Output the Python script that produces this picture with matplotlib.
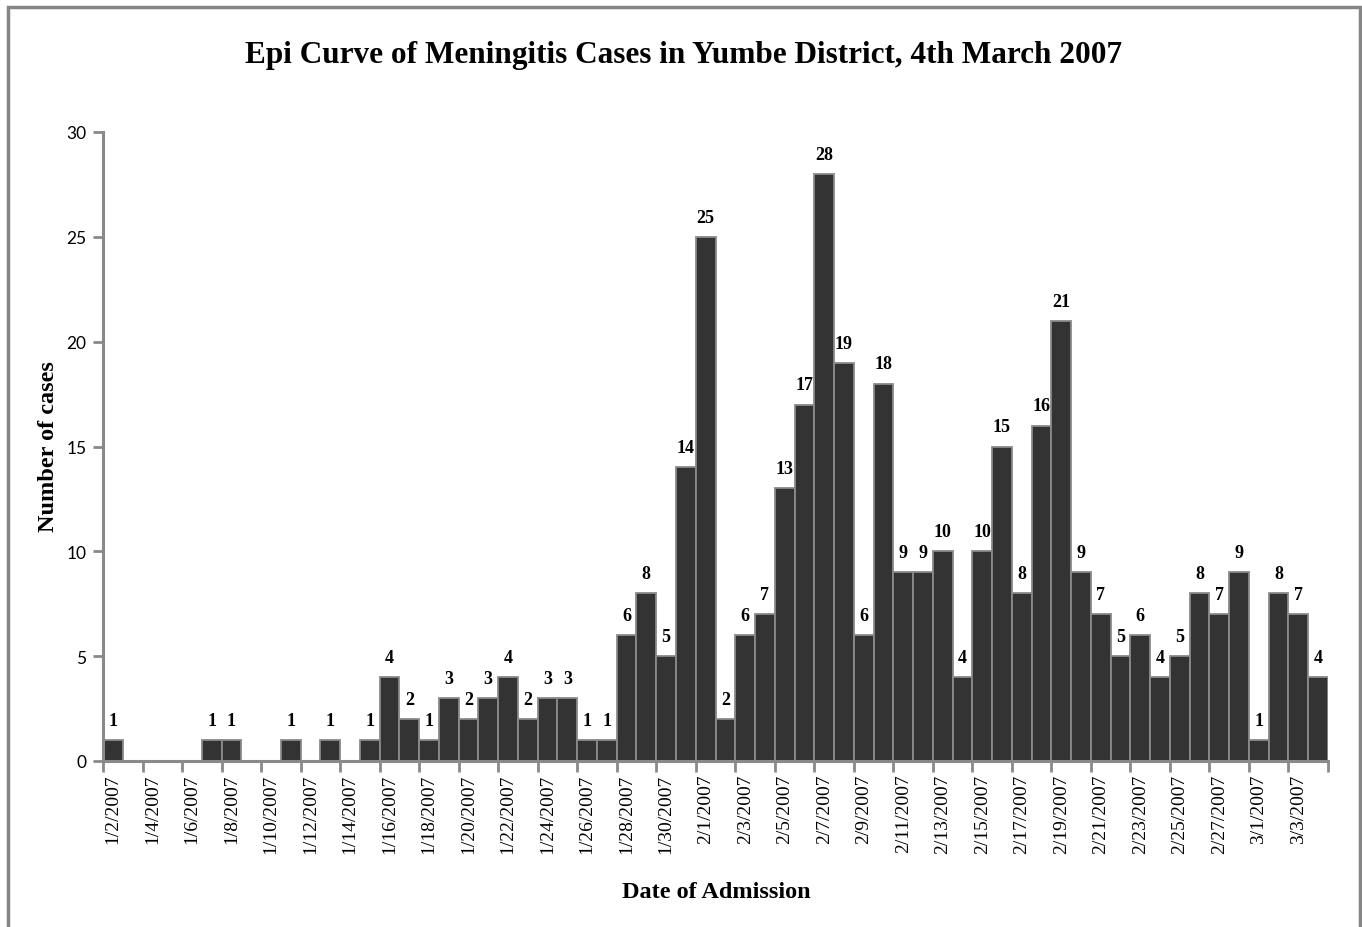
import numpy as np
import pandas as pd
import matplotlib
matplotlib.use('Agg')
import matplotlib.pyplot as plt
from matplotlib.patches import Rectangle

######## Data ##############

dates = pd.date_range('2007-01-02', '2007-03-04', freq='D')
day_labels = [f'{d.month}/{d.day}/{d.year}' for d in dates]

cases = [1, 0, 0, 0, 0, 1, 1, 0, 0, 1,          # 1/2 - 1/11
         0, 1, 0, 1, 4, 2, 1, 3, 2, 3,          # 1/12 - 1/21
         4, 2, 3, 3, 1, 1, 6, 8, 5, 14,         # 1/22 - 1/31
         25, 2, 6, 7, 13, 17, 28, 19, 6, 18,    # 2/1 - 2/10
         9, 9, 10, 4, 10, 15, 8, 16, 21, 9,     # 2/11 - 2/20
         7, 5, 6, 4, 5, 8, 7, 9,                # 2/21 - 2/28
         1, 8, 7, 4]                            # 3/1 - 3/4

title = 'Epi Curve of Meningitis Cases in Yumbe District, 4th March 2007'
xlabel = 'Date of Admission'
ylabel = 'Number of cases'

######## Plot ##############

serif = ['Liberation Serif', 'DejaVu Serif']
sans = ['Lato', 'DejaVu Sans']
grey = '#8a8a8a'

fig = plt.figure(figsize=(13.62, 9.28), dpi=100)
ax = fig.add_axes([103 / 1362, 1 - 762 / 928, 1225 / 1362, 629 / 928])

x = np.arange(len(cases))
bars = ax.bar(x, cases, width=1.0, color='#333333', edgecolor=grey, linewidth=1.3)

# data labels (zero days have none)
for xi, v in zip(x, cases):
    if v > 0:
        ax.annotate(str(v), (xi, v), xytext=(0, 8), textcoords='offset points',
                    ha='center', va='bottom', fontsize=13, fontweight='bold',
                    family=serif)

ax.set_xlim(-0.5, len(cases) - 0.5)
ax.set_ylim(0, 30)
ax.set_yticks(np.arange(0, 31, 5))
ax.set_yticklabels([str(v) for v in range(0, 31, 5)], family=sans, fontsize=12.5)

# labels on every second day, tick marks between categories
ax.set_xticks(x[::2])
ax.set_xticklabels(day_labels[::2], rotation=90, family=serif, fontsize=14)
ax.set_xticks(np.arange(-0.5, len(cases), 2), minor=True)
ax.tick_params(axis='x', which='major', length=0, pad=9)
ax.tick_params(axis='x', which='minor', length=8, width=2, color=grey, direction='out')
ax.tick_params(axis='y', length=7, width=2, color=grey, direction='out', pad=5)

for side in ['top', 'right']:
    ax.spines[side].set_visible(False)
for side in ['left', 'bottom']:
    ax.spines[side].set_color(grey)
    ax.spines[side].set_linewidth(2.2)

fig.text(0.502, 1 - 55 / 928, title, ha='center', va='center', fontsize=22.5,
         fontweight='bold', family=serif)
fig.text(48 / 1362, 1 - 447 / 928, ylabel, ha='center', va='center', rotation=90,
         fontsize=17.5, fontweight='bold', family=serif)
fig.text(716 / 1362, 1 - 893 / 928, xlabel, ha='center', va='center',
         fontsize=17.5, fontweight='bold', family=serif)

# outer chart border
fig.patches.append(Rectangle((7.5 / 1362, -0.05), 1352 / 1362, 1.05 - 8 / 928,
                             transform=fig.transFigure, fill=False,
                             edgecolor='#868686', linewidth=2.5))

fig.savefig('out.png', dpi=100)
